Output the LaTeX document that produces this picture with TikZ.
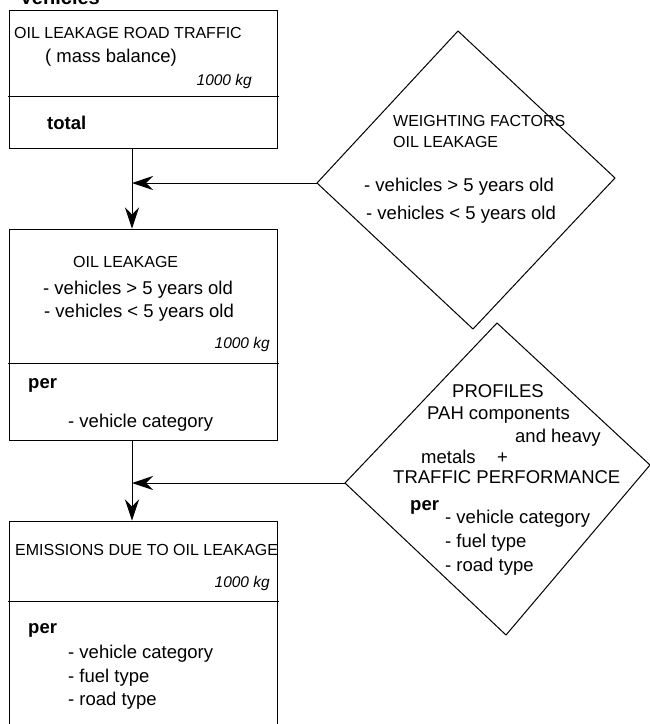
\documentclass[tikz,border=0pt]{standalone}
\usepackage{fontspec}
\setmainfont{Liberation Sans}
\usetikzlibrary{arrows.meta}

\tikzset{
  box/.style={draw, line width=1pt, minimum width=267.5pt, inner sep=0pt},
  txt/.style={inner sep=0pt, anchor=base west, font=\fontsize{18.5}{22}\selectfont},
  captxt/.style={inner sep=0pt, anchor=base west, font=\fontsize{16}{19}\selectfont},
  kg/.style={inner sep=0pt, anchor=base east, font=\fontsize{15.5}{18}\selectfont\itshape},
  hd/.style={inner sep=0pt, anchor=base west, font=\fontsize{18.5}{22}\selectfont\bfseries},
  arr/.style={line width=1pt, -{Stealth[length=21pt, width=14pt, inset=7pt]}}
}

\begin{document}
\begin{tikzpicture}[x=1pt, y=-1pt]
    \useasboundingbox (0,0) rectangle (649,724);
    \coordinate (spine) at (132,0);

    % heading, cut at the top
    \node[inner sep=0pt, anchor=base east, font=\fontsize{20}{24}\selectfont\bfseries] (head) at (100,4) {Vehicles};

    % Boxes
    \node[box, minimum height=138pt] (road) at (143.25,79) {};
    \node[box, minimum height=211pt] (leak) at (143.25,334.5) {};
    \node[box, minimum height=219pt] (emis) at (143.25,630.5) {};
    \draw[line width=1pt] (8,96) -- (279,96);
    \draw[line width=1pt] (8,363) -- (279,363);
    \draw[line width=1pt] (8,601) -- (279,601);

    % Diamonds
    \coordinate (wt) at (458,31);
    \coordinate (wr) at (615,178);
    \coordinate (wb) at (473,329);
    \coordinate (wl) at (317,183);
    \draw[line width=1pt] (wt) -- (wr) -- (wb) -- (wl) -- cycle;
    \coordinate (pt) at (497,323);
    \coordinate (pr) at (650,465);
    \coordinate (pb) at (506,635);
    \coordinate (pl) at (345,483);
    \draw[line width=1pt] (pt) -- (pr) -- (pb) -- (pl) -- cycle;

    % Texts in the boxes
    \node[captxt] (roadtitle) at (14,38) {OIL LEAKAGE ROAD TRAFFIC};
    \node[txt] (roadmass) at (45,62) {( mass balance)};
    \node[kg] (roadkg) at (252,85) {1000 kg};
    \node[hd] (roadtotal) at (47,129) {total};

    \node[captxt] (leaktitle) at (73,267) {OIL LEAKAGE};
    \node[txt] (leakold) at (43,294) {- vehicles > 5 years old};
    \node[txt] (leaknew) at (44,317) {- vehicles < 5 years old};
    \node[kg] (leakkg) at (270,348) {1000 kg};
    \node[hd] (leakper) at (28,388) {per};
    \node[txt] (leakcat) at (68,427) {- vehicle category};

    \node[captxt] (emistitle) at (15,555) {EMISSIONS DUE TO OIL LEAKAGE};
    \node[kg] (emiskg) at (270,587) {1000 kg};
    \node[hd] (emisper) at (28,633) {per};
    \node[txt] (emiscat) at (68,658) {- vehicle category};
    \node[txt] (emisfuel) at (68,682) {- fuel type};
    \node[txt] (emisroad) at (68,705) {- road type};

    % Texts in the diamonds
    \node[captxt] (wtitle) at (393,126) {WEIGHTING FACTORS};
    \node[captxt] (wsub) at (393,147) {OIL LEAKAGE};
    \node[txt] (wold) at (364,191) {- vehicles > 5 years old};
    \node[txt] (wnew) at (366,219) {- vehicles < 5 years old};

    \node[txt] (ptitle) at (452,397) {PROFILES};
    \node[txt] (ppah) at (427,419) {PAH components};
    \node[txt] (pheavy) at (515,442) {and heavy};
    \node[txt] (pmetals) at (421,463) {metals};
    \node[txt] (pplus) at (497,463) {+};
    \node[txt] (ptraffic) at (393,483) {TRAFFIC PERFORMANCE};
    \node[hd] (pper) at (410,510) {per};
    \node[txt] (pcat) at (445,523) {- vehicle category};
    \node[txt] (pfuel) at (445,547) {- fuel type};
    \node[txt] (proad) at (445,571) {- road type};

    % Arrows
    \draw[arr] (road.south -| spine) -- (leak.north -| spine);
    \draw[arr] (leak.south -| spine) -- (emis.north -| spine);
    \draw[arr] (wl) -- (wl -| spine);
    \draw[arr] (pl) -- (pl -| spine);
\end{tikzpicture}
\end{document}
